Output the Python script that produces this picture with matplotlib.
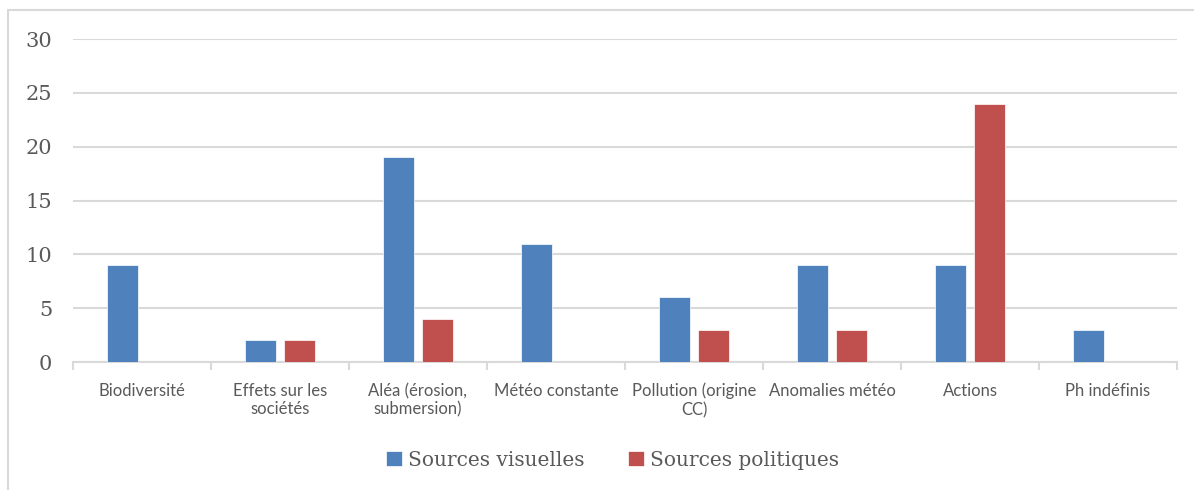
import matplotlib.pyplot as plt
import numpy as np
from matplotlib.patches import Rectangle

categories = ["Biodiversité", "Effets sur les\nsociétés", "Aléa (érosion,\nsubmersion)",
              "Météo constante", "Pollution (origine\nCC)", "Anomalies météo",
              "Actions", "Ph indéfinis"]
visuelles = [9, 2, 19, 11, 6, 9, 9, 3]
politiques = [0, 2, 4, 0, 3, 3, 24, 0]

blue = "#4F81BD"
red = "#C0504D"
grid = "#D9D9D9"
txt = "#595959"

fig = plt.figure(figsize=(11.94, 4.90), dpi=100)
# chart frame
fig.patches.append(Rectangle((8 / 1194, -0.1), 1.2, 1 - 10 / 490 + 0.1,
                             transform=fig.transFigure, fill=False,
                             edgecolor=grid, linewidth=1.5))

ax = fig.add_axes([73 / 1194, 1 - 362 / 490, (1177 - 73) / 1194, (362 - 39) / 490])

x = np.arange(len(categories))
w = 0.225
ax.bar(x - 0.14, visuelles, w, color=blue, edgecolor="white", linewidth=0.5,
       label="Sources visuelles", zorder=3)
ax.bar(x + 0.14, politiques, w, color=red, edgecolor="white", linewidth=0.5,
       label="Sources politiques", zorder=3)

ax.set_xlim(-0.5, len(categories) - 0.5)
ax.set_ylim(0, 30)
ax.set_yticks(range(0, 31, 5))
ax.yaxis.grid(True, color=grid, linewidth=1.5, zorder=0)
ax.tick_params(axis="y", length=0, pad=15, labelsize=15, labelcolor=txt)
for lab in ax.get_yticklabels():
    lab.set_family("DejaVu Serif")

ax.set_xticks(x)
ax.set_xticklabels(categories, fontsize=12, color=txt, family="Lato")
ax.set_xticks(np.arange(-0.5, len(categories), 1), minor=True)
ax.tick_params(axis="x", which="major", length=0, pad=15)
ax.tick_params(axis="x", which="minor", length=6, color=grid, width=1.5)

for s in ["top", "right", "left"]:
    ax.spines[s].set_visible(False)
ax.spines["bottom"].set_color(grid)
ax.spines["bottom"].set_linewidth(1.5)

leg = fig.legend(loc="center", bbox_to_anchor=(0.513, 1 - 460 / 490), ncol=2,
                 frameon=False, prop={"family": "DejaVu Serif", "size": 14.5},
                 handlelength=0.75, handleheight=0.75, handletextpad=0.3,
                 columnspacing=2.2)
for t in leg.get_texts():
    t.set_color(txt)

plt.savefig("out.png", dpi=100)
